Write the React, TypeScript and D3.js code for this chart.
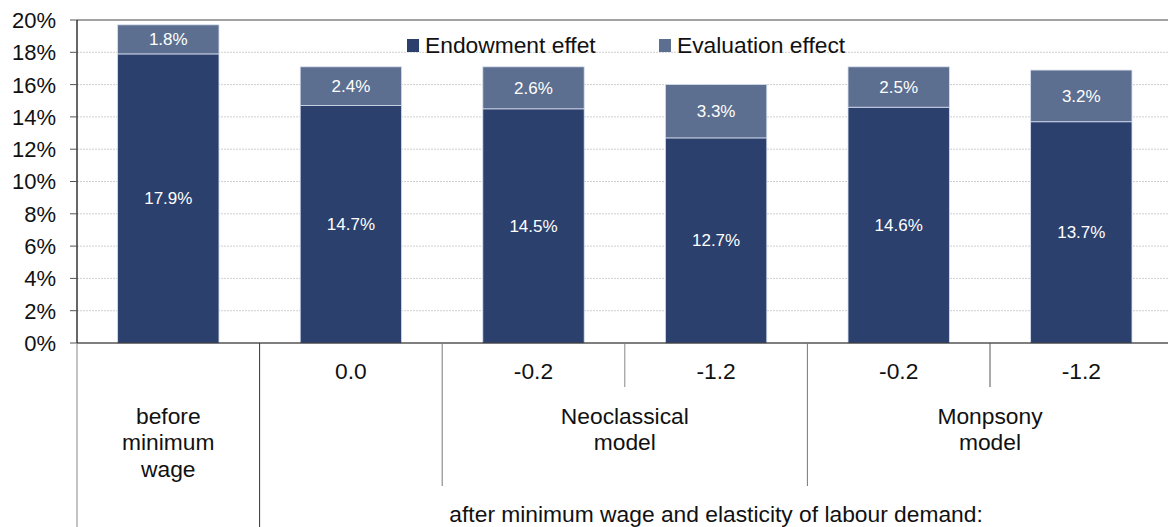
import React from "react";
import * as d3 from "d3";

const categories = ["before", "n0.0", "n-0.2", "n-1.2", "m-0.2", "m-1.2"];
const level1Labels = ["", "0.0", "-0.2", "-1.2", "-0.2", "-1.2"];
const endowment = [17.9, 14.7, 14.5, 12.7, 14.6, 13.7];
const evaluation = [1.8, 2.4, 2.6, 3.3, 2.5, 3.2];
const yTicks = [0, 2, 4, 6, 8, 10, 12, 14, 16, 18, 20];
const seriesNames = ["Endowment effet", "Evaluation effect"];
const colors = ["#2b406d", "#5c6f90"];

const W = 1168;
const H = 527;
const FONT = "'Liberation Sans', Arial, sans-serif";
const FS = 22.8;
const FT = 22;

export default function App() {
  const x = d3.scaleBand<string>().domain(categories).range([77, 1172.6]).paddingInner(0.445).paddingOuter(0.2225);
  const y = d3.scaleLinear().domain([0, 20]).range([343, 20]);
  const step = x.step();
  const left = 77;
  const bound = (i: number) => left + step * i;

  const stack = categories.map((c, i) => [
    { y0: 0, y1: endowment[i], v: endowment[i], k: 0 },
    { y0: endowment[i], y1: endowment[i] + evaluation[i], v: evaluation[i], k: 1 },
  ]);

  return (
    <svg width={W} height={H} style={{ position: "absolute", left: 0, top: 0 }} fontFamily={FONT}>
      <rect width={W} height={H} fill="#fff" />
      {yTicks.slice(1, -1).map((t) => (
        <line key={t} x1={77} x2={W} y1={y(t)} y2={y(t)} stroke="#d0d0d0" strokeDasharray="2,1" strokeWidth={1} />
      ))}
      <line x1={77} x2={W} y1={y(20)} y2={y(20)} stroke="#444" strokeWidth={1} />
      {stack.map((segs, i) =>
        segs.map((s) => (
          <g key={i + "-" + s.k}>
            <rect
              x={x(categories[i])!}
              width={x.bandwidth()}
              y={y(s.y1)}
              height={y(s.y0) - y(s.y1)}
              fill={colors[s.k]}
              stroke="#d5dcee"
              strokeWidth={0.8}
            />
            <text
              x={x(categories[i])! + x.bandwidth() / 2}
              y={(y(s.y0) + y(s.y1)) / 2}
              dy="0.35em"
              textAnchor="middle"
              fill="#fff"
              fontSize={17}
            >
              {s.v.toFixed(1)}%
            </text>
          </g>
        ))
      )}
      {/* y axis */}
      <line x1={77} x2={77} y1={20} y2={343} stroke="#000" strokeWidth={1.2} />
      {yTicks.map((t) => (
        <g key={t}>
          <line x1={70} x2={77} y1={y(t)} y2={y(t)} stroke="#555" />
          <text x={56} y={y(t)} dy="0.36em" textAnchor="end" fontSize={FT} fill="#111">
            {t}%
          </text>
        </g>
      ))}
      {/* x axis */}
      <line x1={77} x2={W} y1={343} y2={343} stroke="#000" strokeWidth={1.2} />
      <line x1={bound(0)} x2={bound(0)} y1={343} y2={527} stroke="#888" />
      <line x1={bound(1)} x2={bound(1)} y1={343} y2={527} stroke="#333" />
      <line x1={bound(2)} x2={bound(2)} y1={343} y2={486} stroke="#777" />
      <line x1={bound(3)} x2={bound(3)} y1={343} y2={387} stroke="#888" />
      <line x1={bound(4)} x2={bound(4)} y1={343} y2={486} stroke="#777" />
      <line x1={bound(5)} x2={bound(5)} y1={343} y2={387} stroke="#555" />
      {level1Labels.map((l, i) =>
        l ? (
          <text key={i} x={x(categories[i])! + x.bandwidth() / 2} y={379} textAnchor="middle" fontSize={FS} fill="#111">
            {l}
          </text>
        ) : null
      )}
      <text textAnchor="middle" fontSize={FS} fill="#111">
        <tspan x={x(categories[0])! + x.bandwidth() / 2} y={424}>before</tspan>
        <tspan x={x(categories[0])! + x.bandwidth() / 2} y={450}>minimum</tspan>
        <tspan x={x(categories[0])! + x.bandwidth() / 2} y={477}>wage</tspan>
      </text>
      <text textAnchor="middle" fontSize={FS} fill="#111">
        <tspan x={bound(3)} y={424}>Neoclassical</tspan>
        <tspan x={bound(3)} y={450}>model</tspan>
      </text>
      <text textAnchor="middle" fontSize={FS} fill="#111">
        <tspan x={(bound(4) + bound(6)) / 2} y={424}>Monpsony</tspan>
        <tspan x={(bound(4) + bound(6)) / 2} y={450}>model</tspan>
      </text>
      <text x={(bound(1) + bound(6)) / 2} y={522} textAnchor="middle" fontSize={FS} fill="#111">
        after minimum wage and elasticity of labour demand:
      </text>
      {/* legend */}
      {seriesNames.map((n, k) => (
        <g key={n} transform={`translate(${k === 0 ? 407 : 659},0)`}>
          <rect x={0} y={39} width={12} height={13} fill={colors[k]} />
          <text x={18} y={53} fontSize={FS} fill="#111">
            {n}
          </text>
        </g>
      ))}
    </svg>
  );
}
